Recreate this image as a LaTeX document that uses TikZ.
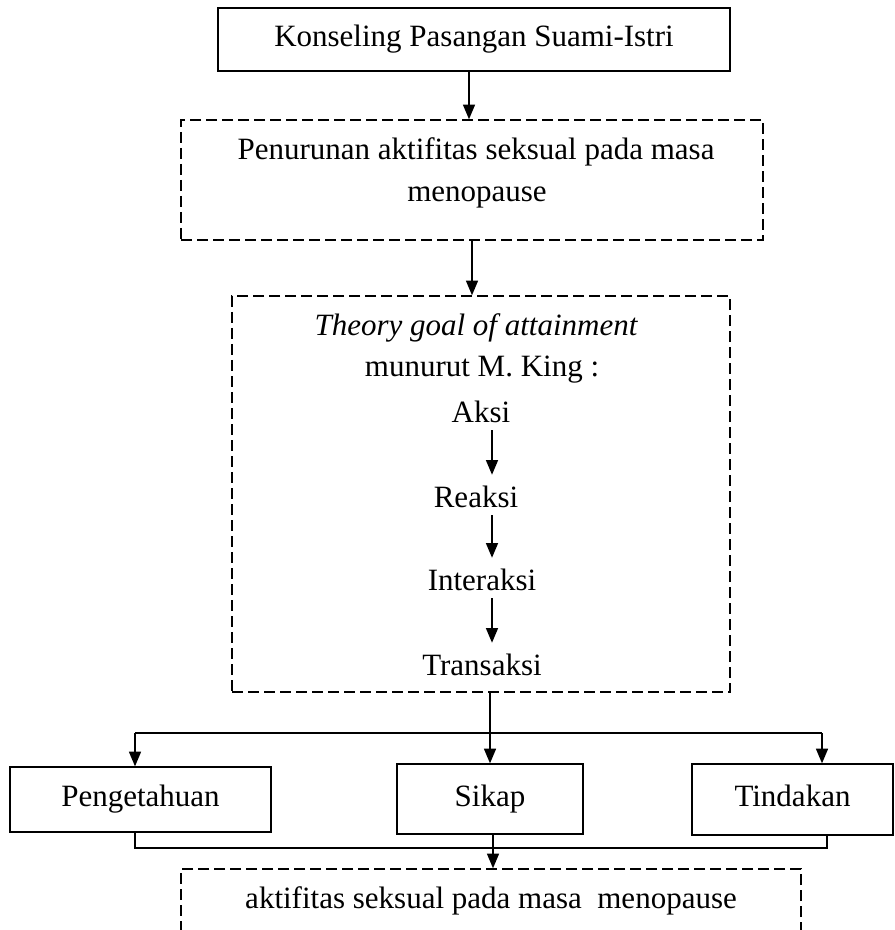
\documentclass[tikz,border=0pt]{standalone}
\usepackage{fontspec}
\setmainfont{Liberation Serif}
\usetikzlibrary{arrows.meta,calc}
\begin{document}
\begin{tikzpicture}[x=0.75pt,y=-0.75pt,
  every node/.style={font=\fontsize{23.25}{27}\selectfont},
  solidbox/.style={draw, line width=1pt, inner sep=0pt, text height=16.3pt, text depth=5.1pt},
  dashbox/.style={draw, line width=1.1pt, dash pattern=on 8pt off 4pt, inner sep=0pt},
  arr/.style={line width=1.1pt, -{Triangle[length=11pt,width=9pt]}},
  conn/.style={line width=1.1pt},
  lbl/.style={inner sep=0pt, anchor=base},
  flow/.style={inner sep=0pt, anchor=base, text height=24pt, text depth=6pt}]
\useasboundingbox (0,0) rectangle (894,930);
\clip (0,0) rectangle (894,930);

% top box
\node[solidbox, line width=1.8pt, minimum width=384pt, minimum height=47.25pt] (top) at (474,39.5) {Konseling Pasangan Suami-Istri};

% box 2
\node[dashbox, minimum width=436.5pt, minimum height=90pt] (box2) at (472,180) {};
\node[lbl] (t2a) at (476,160) {Penurunan aktifitas seksual pada masa};
\node[lbl] (t2b) at (477,202) {menopause};

% box 3
\node[dashbox, minimum width=373.5pt, minimum height=297pt] (box3) at (481,494) {};
\node[lbl] (theory) at (476,335) {\itshape Theory goal of attainment};
\node[lbl] (king) at (482,376) {munurut M. King :};
\node[flow] (aksi) at (481,422) {Aksi};
\node[flow] (reaksi) at (476,507) {Reaksi};
\node[flow] (inter) at (482,590) {Interaksi};
\node[flow] (trans) at (482,675) {Transaksi};

% lower boxes
\node[solidbox, minimum width=195.75pt, minimum height=48.75pt] (peng) at (140.5,799.5) {Pengetahuan};
\node[solidbox, minimum width=139.5pt, minimum height=52.5pt] (sikap) at (490,799) {Sikap};
\node[solidbox, minimum width=150.75pt, minimum height=53.25pt] (tind) at (792.5,799.5) {Tindakan};

% output box
\node[dashbox, minimum width=465pt, minimum height=75pt] (outbox) at (491,919) {};
\node[lbl] (outtxt) at (491,908) {aktifitas seksual pada masa\ \ menopause};

% helper coordinates
\coordinate (a1) at (469,0);
\coordinate (a2) at (472,0);
\coordinate (a3) at (493,0);
\coordinate (ax) at (492,0);
\coordinate (bl) at (135,733);
\coordinate (br) at (822,733);
\coordinate (ml) at (135,848);
\coordinate (mr) at (827,848);

% connectors
\draw[arr] (top.south -| a1) -- (box2.north -| a1);
\draw[arr] (box2.south -| a2) -- (box3.north -| a2);
\draw[arr] (aksi.south -| ax) -- (reaksi.north -| ax);
\draw[arr] (reaksi.south -| ax) -- (inter.north -| ax);
\draw[arr] (inter.south -| ax) -- (trans.north -| ax);
\draw[arr] (box3.south -| sikap.north) -- (sikap.north);
\draw[conn] (bl) -- (br);
\draw[arr] (bl) -- (bl |- peng.north);
\draw[arr] (br) -- (br |- tind.north);
\draw[conn] (peng.south -| ml) -- (ml) -- (mr) -- (tind.south -| mr);
\draw[arr] (sikap.south -| a3) -- (outbox.north -| a3);
\end{tikzpicture}
\end{document}
